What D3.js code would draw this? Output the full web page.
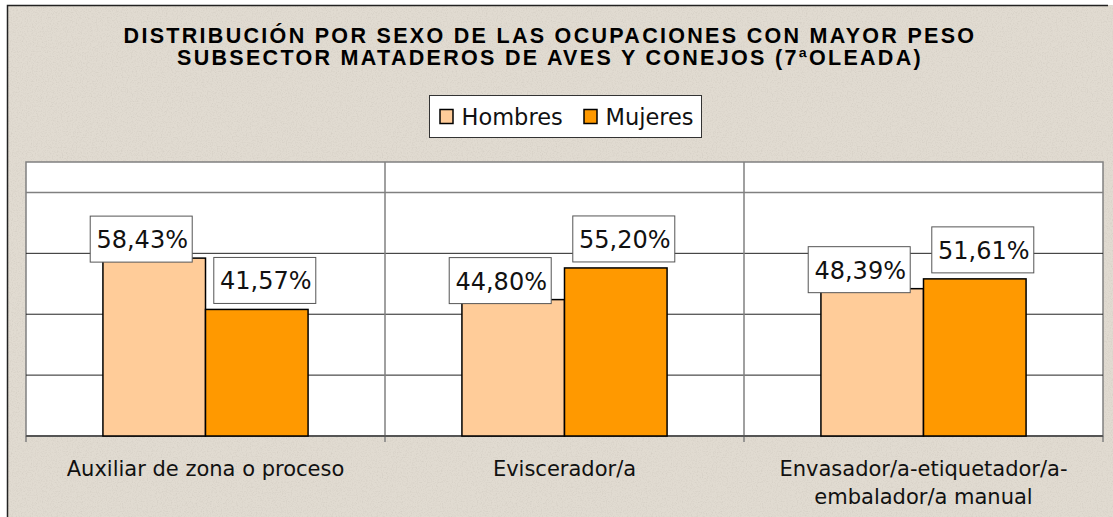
<!DOCTYPE html>
<html>
<head>
<meta charset="utf-8">
<script src="https://cdn.jsdelivr.net/npm/d3@7"></script>
<style>
  body { margin: 0; background: #fff; }
  svg { display: block; }
  text { font-family: "DejaVu Sans", Verdana, sans-serif; fill: #111; }
</style>
</head>
<body>
<svg id="chart" width="1113" height="517"></svg>
<script>
// chart data
const categories = ['Auxiliar de zona o proceso', 'Eviscerador/a', 'Envasador/a-etiquetador/a-embalador/a manual'];
const categoryLines = [['Auxiliar de zona o proceso'], ['Eviscerador/a'], ['Envasador/a-etiquetador/a-', 'embalador/a manual']];
const seriesNames = ['Hombres', 'Mujeres'];
const hombres = [58.43, 44.80, 48.39];
const mujeres = [41.57, 55.20, 51.61];
const yTicks = [0, 20, 40, 60, 80];
const titleLines = ['DISTRIBUCIÓN POR SEXO DE LAS OCUPACIONES CON MAYOR PESO',
                    'SUBSECTOR MATADEROS DE AVES Y CONEJOS (7ªOLEADA)'];

const colors = { Hombres: '#FFCC99', Mujeres: '#FF9900' };

const svg = d3.select('#chart');
const width = +svg.attr('width');
const height = +svg.attr('height');

const margin = { left: 26, right: 10, top: 162, bottom: 81 };
const plotBottom = height - margin.bottom;
const plotRight = width - margin.right;

const locale = d3.formatLocale({ decimal: ',', thousands: '.', grouping: [3], currency: ['', '€'] });
const fmt = v => locale.format('.2f')(v) + '%';

// textured background
const defs = svg.append('defs');
const filter = defs.append('filter').attr('id', 'paper').attr('x', 0).attr('y', 0).attr('width', 1).attr('height', 1);
filter.append('feTurbulence').attr('type', 'fractalNoise').attr('baseFrequency', 0.8).attr('numOctaves', 2).attr('seed', 4).attr('result', 'noise');
filter.append('feColorMatrix').attr('in', 'noise').attr('type', 'matrix')
      .attr('values', '0 0 0 0 0.6  0 0 0 0 0.56  0 0 0 0 0.5  0 0 0 -1.3 0.72').attr('result', 'spots');
filter.append('feComposite').attr('in', 'spots').attr('in2', 'SourceGraphic').attr('operator', 'atop');

svg.append('rect')
   .attr('x', 7).attr('y', 5)
   .attr('width', width - 7).attr('height', height - 5)
   .attr('fill', '#E1DBD1')
   .attr('filter', 'url(#paper)');

svg.append('path')
   .attr('d', `M7.5,${height}V5.5H1108`)
   .attr('fill', 'none')
   .attr('stroke', '#222')
   .attr('stroke-width', 1.5);

// title
svg.append('g').selectAll('text')
   .data(titleLines)
   .join('text')
   .attr('x', 550)
   .attr('y', (d, i) => 43 + i * 22)
   .attr('text-anchor', 'middle')
   .style('font-family', '"Liberation Sans", Arial, sans-serif')
   .style('font-weight', 'bold')
   .style('font-size', '21.5px')
   .style('letter-spacing', '2.3px')
   .style('fill', '#000')
   .text(d => d);

// scales
const x0 = d3.scaleBand().domain(categories).range([margin.left, plotRight]).padding(0);
const x1 = d3.scaleBand().domain(seriesNames).range([0, x0.bandwidth()]).paddingInner(0).paddingOuter(0.75);
const y = d3.scaleLinear().domain([0, 90]).range([plotBottom, margin.top]);

// plot area
svg.append('rect')
   .attr('x', margin.left).attr('y', margin.top)
   .attr('width', plotRight - margin.left).attr('height', plotBottom - margin.top)
   .attr('fill', '#fff')
   .attr('stroke', '#808080')
   .attr('stroke-width', 1.5);

// gridlines
svg.append('g').selectAll('line')
   .data(yTicks.filter(t => t > 0))
   .join('line')
   .attr('x1', margin.left).attr('x2', plotRight)
   .attr('y1', d => y(d)).attr('y2', d => y(d))
   .attr('stroke', d => d === 80 ? '#808080' : '#222')
   .attr('stroke-width', d => d === 80 ? 1.5 : 1);

// category separators + ticks
const sepX = categories.map(c => x0(c)).concat([x0.range()[1]]);
svg.append('g').selectAll('line')
   .data(sepX)
   .join('line')
   .attr('x1', d => d).attr('x2', d => d)
   .attr('y1', (d, i) => (i === 0 || i === sepX.length - 1) ? plotBottom : margin.top)
   .attr('y2', plotBottom + 6)
   .attr('stroke', '#808080')
   .attr('stroke-width', 1.5);

svg.append('line')
   .attr('x1', margin.left).attr('x2', plotRight)
   .attr('y1', plotBottom).attr('y2', plotBottom)
   .attr('stroke', '#555')
   .attr('stroke-width', 2);

// bars
const rows = categories.map((c, i) => ({ cat: c, values: [
   { name: 'Hombres', value: hombres[i] },
   { name: 'Mujeres', value: mujeres[i] }
]}));

const groups = svg.append('g').selectAll('g')
   .data(rows)
   .join('g')
   .attr('transform', d => `translate(${x0(d.cat)},0)`);

groups.selectAll('rect')
   .data(d => d.values)
   .join('rect')
   .attr('x', d => x1(d.name))
   .attr('y', d => y(d.value))
   .attr('width', x1.bandwidth())
   .attr('height', d => plotBottom - y(d.value))
   .attr('fill', d => colors[d.name])
   .attr('stroke', '#000')
   .attr('stroke-width', 1.5);

// data labels (Excel pushes the two boxes apart)
const BOX_W = 102, BOX_H = 46;
const labels = groups.selectAll('g.lbl')
   .data(d => d.values)
   .join('g')
   .attr('class', 'lbl')
   .attr('transform', d => {
      const cx = x1(d.name) + x1.bandwidth() / 2 + (d.name === 'Hombres' ? -13 : 8);
      const by = y(d.value) + (d.name === 'Hombres' ? 4 : -6);
      return `translate(${cx - BOX_W / 2},${by - BOX_H})`;
   });

labels.append('rect')
   .attr('width', BOX_W).attr('height', BOX_H)
   .attr('fill', '#fff')
   .attr('stroke', '#555')
   .attr('stroke-width', 1);

labels.append('text')
   .attr('x', BOX_W / 2 + 1).attr('y', 32)
   .attr('text-anchor', 'middle')
   .style('font-size', '24px')
   .text(d => fmt(d.value));

// category labels
svg.append('g').selectAll('text')
   .data(categories)
   .join('text')
   .attr('x', d => x0(d) + x0.bandwidth() / 2)
   .attr('y', 476)
   .attr('text-anchor', 'middle')
   .style('font-size', '21px')
   .each(function (d, i) {
      d3.select(this).selectAll('tspan')
        .data(categoryLines[i])
        .join('tspan')
        .attr('x', x0(d) + x0.bandwidth() / 2)
        .attr('dy', (t, j) => j === 0 ? 0 : 27.5)
        .text(t => t);
   });

// legend
const legend = svg.append('g').attr('transform', 'translate(429.5,95.5)');
legend.append('rect')
   .attr('width', 272).attr('height', 42)
   .attr('fill', '#fff')
   .attr('stroke', '#333')
   .attr('stroke-width', 1);

const legendX = [10.5, 154.5];
const items = legend.selectAll('g.item')
   .data(seriesNames)
   .join('g')
   .attr('class', 'item')
   .attr('transform', (d, i) => `translate(${legendX[i]},14)`);

items.append('rect')
   .attr('width', 13).attr('height', 14)
   .attr('fill', d => colors[d])
   .attr('stroke', '#000')
   .attr('stroke-width', 1.5);

items.append('text')
   .attr('x', 21.5).attr('y', 15)
   .style('font-size', '22.5px')
   .text(d => d);
</script>
</body>
</html>
